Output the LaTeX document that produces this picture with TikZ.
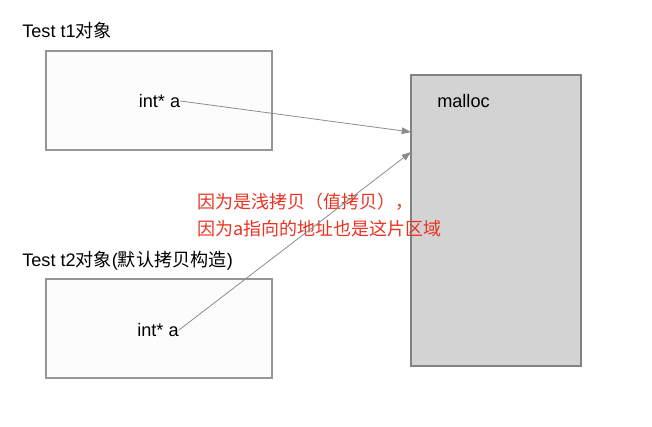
\documentclass[tikz,border=0pt]{standalone}
\usepackage{fontspec}
\setmainfont{Liberation Sans}
\newfontfamily\cjk{Noto Sans CJK SC}
\usetikzlibrary{arrows.meta}
\definecolor{boxline}{RGB}{150,150,150}
\definecolor{memfill}{RGB}{211,211,211}
\definecolor{memline}{RGB}{130,130,130}
\definecolor{arrowc}{RGB}{140,140,140}
\definecolor{notered}{RGB}{234,51,35}
\tikzset{
  objbox/.style={draw=boxline, fill=white!99!black, line width=0.8pt},
  membox/.style={draw=memline, fill=memfill, line width=1.1pt},
  lbl/.style={font=\fontsize{13.6}{16}\selectfont, inner sep=0pt},
  ptr/.style={draw=arrowc, line width=0.6pt, -{Triangle[length=7pt,width=5pt]}},
}
\begin{document}
\begin{tikzpicture}[x=0.75pt,y=-0.75pt]
\useasboundingbox (0,0) rectangle (652,426);
% boxes
\draw[objbox] (46,51) rectangle (272,150);
\draw[objbox] (46,279) rectangle (272,378);
\draw[membox] (411,75) rectangle (581,366);
% labels
\node[lbl, anchor=west] (t1) at (22,31) {Test t1{\cjk 对象}};
\node[lbl, anchor=west] (t2) at (22,261) {Test t2{\cjk 对象}(\cjk 默认拷贝构造\rm)};
\node[lbl] (a1) at (159.5,101) {int* a};
\node[lbl] (a2) at (158,330) {int* a};
\node[lbl, anchor=west] (m) at (437,101) {malloc};
\node[lbl, anchor=west, text=notered, align=left, font=\cjk\fontsize{13.5}{20.5}\selectfont] (note) at (197,215)
  {因为是浅拷贝（值拷贝），\\因为a指向的地址也是这片区域};
% arrow targets
\coordinate (p1) at (411,132);
\coordinate (p2) at (411,152);
\draw[ptr] (a1.east) -- (p1);
\draw[ptr] (a2.east) -- (p2);
\end{tikzpicture}
\end{document}
